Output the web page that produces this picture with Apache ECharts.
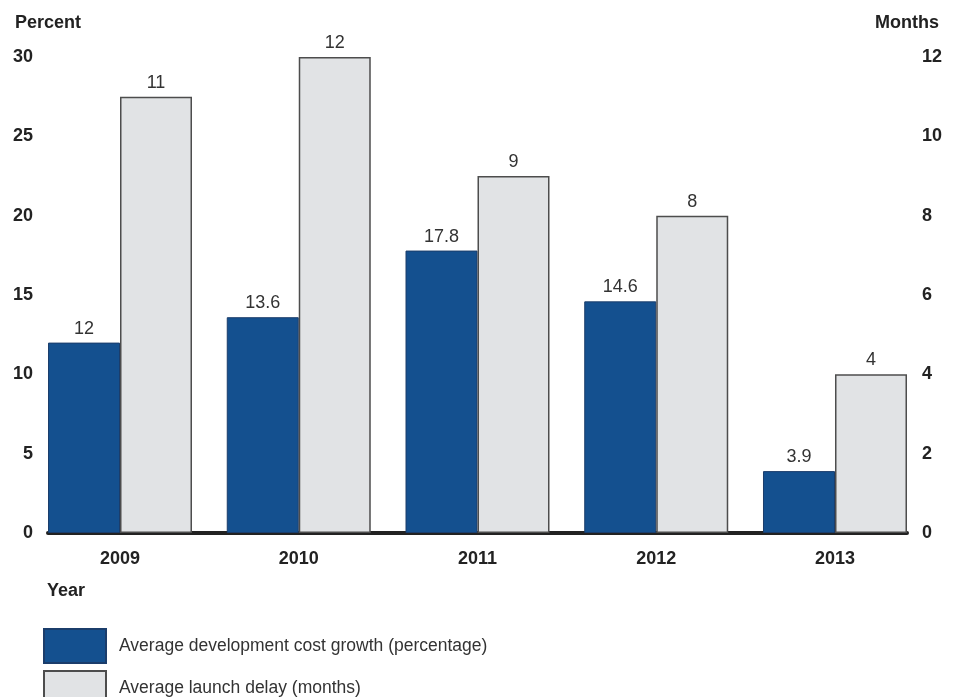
<!DOCTYPE html>
<html>
<head>
<meta charset="utf-8">
<script src="https://cdn.jsdelivr.net/npm/echarts@6/dist/echarts.min.js"></script>
<style>
  html, body { margin: 0; padding: 0; background: #ffffff; }
  #chart { width: 958px; height: 697px; }
</style>
</head>
<body>
<div id="chart"></div>
<script>
// Fiscal years on the horizontal axis
const years = ['2009', '2010', '2011', '2012', '2013'];
// Average development cost growth, percent (left axis)
const costGrowth = [12, 13.6, 17.8, 14.6, 3.9];
// Average launch delay, months (right axis)
const launchDelay = [11, 12, 9, 8, 4];
// Tick settings for both value axes
const percentTicks = { min: 0, max: 30, interval: 5 };
const monthTicks = { min: 0, max: 12, interval: 2 };

const FONT = '"Liberation Sans", Arial, Helvetica, sans-serif';
const BLUE = '#14508f';
const GREY = '#e1e3e5';
const INK = '#222222';

// Year positions as numeric indexes so the base line can run past the outer bars
const yearIndex = years.map((_, i) => i);
const costPoints = yearIndex.map(i => [i, costGrowth[i]]);
const delayPoints = yearIndex.map(i => [i, launchDelay[i]]);

const chart = echarts.init(document.getElementById('chart'), null, { renderer: 'canvas' });

const boldText = { fontSize: 18, fontWeight: 'bold', color: INK, fontFamily: FONT };

const labelStyle = {
  show: true,
  position: 'top',
  distance: 5,
  color: '#333333',
  fontSize: 18,
  fontFamily: FONT,
  formatter: p => String(p.value[1])
};

function valueAxis(side, ticks, name) {
  return {
    type: 'value',
    position: side,
    min: ticks.min,
    max: ticks.max,
    interval: ticks.interval,
    name: name,
    nameLocation: 'end',
    nameGap: 25,
    nameTextStyle: boldText,
    axisLine: { show: false, onZero: false },
    axisTick: { show: false },
    splitLine: { show: false },
    axisLabel: Object.assign({ margin: 15 }, boldText)
  };
}

chart.setOption({
  backgroundColor: '#ffffff',
  animation: false,
  textStyle: { fontFamily: FONT },
  title: {
    text: 'Year',
    left: 42,
    top: 577,
    textStyle: boldText
  },
  grid: { left: 48, right: 51, top: 57, bottom: 164, containLabel: false },
  xAxis: {
    type: 'value',
    min: -0.4028,
    max: 4.4028,
    splitLine: { show: false },
    axisTick: { show: false },
    axisLine: { show: true, onZero: false, lineStyle: { color: INK, width: 4 } },
    axisLabel: Object.assign({
      customValues: yearIndex,
      formatter: v => years[Math.round(v)],
      margin: 17
    }, boldText)
  },
  yAxis: [
    valueAxis('left', percentTicks, 'Percent'),
    valueAxis('right', monthTicks, 'Months')
  ],
  legend: {
    orient: 'vertical',
    left: 43,
    top: 628,
    height: 90,
    padding: 0,
    itemWidth: 62,
    itemHeight: 34,
    itemGap: 6,
    icon: 'rect',
    align: 'left',
    textStyle: { fontSize: 17.5, color: '#333333', fontFamily: FONT, padding: [0, 0, 0, 8] },
    data: ['Average development cost growth (percentage)', 'Average launch delay (months)']
  },
  series: [
    {
      name: 'Average development cost growth (percentage)',
      type: 'bar',
      xAxisIndex: 0,
      yAxisIndex: 0,
      barWidth: 72,
      barGap: '0%',
      data: costPoints,
      itemStyle: { color: BLUE, borderColor: '#1b3d6b', borderWidth: 1 },
      label: labelStyle
    },
    {
      name: 'Average launch delay (months)',
      type: 'bar',
      xAxisIndex: 0,
      yAxisIndex: 1,
      barWidth: 72,
      barGap: '0%',
      data: delayPoints,
      itemStyle: { color: GREY, borderColor: '#4d4d4d', borderWidth: 1.5 },
      label: labelStyle
    }
  ]
});
</script>
</body>
</html>
